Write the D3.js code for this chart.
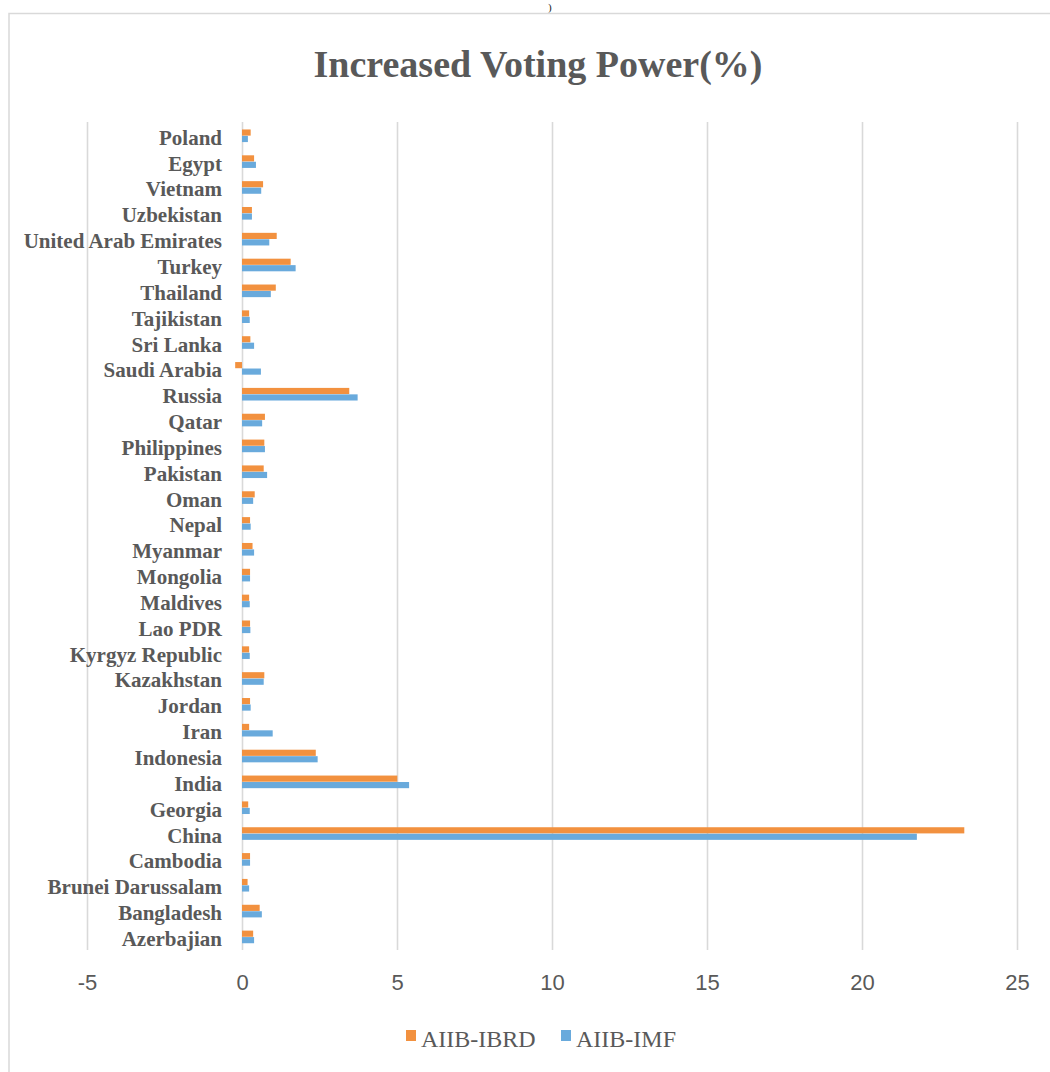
<!DOCTYPE html>
<html>
<head>
<meta charset="utf-8">
<script src="https://cdn.jsdelivr.net/npm/d3@7"></script>
<style>
  html, body { margin: 0; padding: 0; background: #ffffff; }
  svg { display: block; }
</style>
</head>
<body>
<script>
// ---- Data (bottom-to-top order as in the source sheet) ----
const categories = [
  "Azerbajian", "Bangladesh", "Brunei Darussalam", "Cambodia", "China", "Georgia",
  "India", "Indonesia", "Iran", "Jordan", "Kazakhstan", "Kyrgyz Republic", "Lao PDR",
  "Maldives", "Mongolia", "Myanmar", "Nepal", "Oman", "Pakistan", "Philippines",
  "Qatar", "Russia", "Saudi Arabia", "Sri Lanka", "Tajikistan", "Thailand", "Turkey",
  "United Arab Emirates", "Uzbekistan", "Vietnam", "Egypt", "Poland"
];
const aiibIbrd = [
  0.36, 0.57, 0.18, 0.26, 23.3, 0.20,
  5.01, 2.38, 0.23, 0.26, 0.72, 0.23, 0.26,
  0.23, 0.26, 0.34, 0.26, 0.41, 0.70, 0.72,
  0.74, 3.46, -0.22, 0.27, 0.23, 1.09, 1.57,
  1.12, 0.32, 0.68, 0.39, 0.28
];
const aiibImf = [
  0.39, 0.64, 0.23, 0.26, 21.77, 0.25,
  5.39, 2.44, 0.99, 0.28, 0.70, 0.25, 0.27,
  0.25, 0.26, 0.39, 0.28, 0.36, 0.81, 0.74,
  0.65, 3.73, 0.61, 0.39, 0.25, 0.93, 1.73,
  0.88, 0.32, 0.62, 0.45, 0.19
];
const seriesNames = ["AIIB-IBRD", "AIIB-IMF"];
const seriesColors = ["#F2913F", "#69AADC"];
const xTicks = [-5, 0, 5, 10, 15, 20, 25];
const title = "Increased Voting Power(%)";

// ---- Layout ----
const W = 1050, H = 1072;
const plot = { left: 242 - 5 * 31, right: 242 + 25 * 31, top: 123, bottom: 950 };

const svg = d3.select("body").append("svg")
  .attr("width", W).attr("height", H);

svg.append("rect").attr("width", W).attr("height", H).attr("fill", "#ffffff");

// stray fragment of document text above the chart
svg.append("text")
  .attr("x", 548).attr("y", 11)
  .attr("font-family", "'Liberation Serif', 'Times New Roman', serif")
  .attr("font-size", 11).attr("fill", "#222")
  .text(")");

// chart border
svg.append("rect")
  .attr("x", 9).attr("y", 13.5)
  .attr("width", W).attr("height", H)
  .attr("fill", "none").attr("stroke", "#D9D9D9").attr("stroke-width", 1.5);

// title
svg.append("text")
  .attr("x", 538).attr("y", 77)
  .attr("text-anchor", "middle")
  .attr("font-family", "'Liberation Serif', 'Times New Roman', serif")
  .attr("font-weight", "bold")
  .attr("font-size", 38)
  .attr("fill", "#595959")
  .text(title);

// ---- Scales ----
const x = d3.scaleLinear().domain([-5, 25]).range([plot.left, plot.right]);
const y = d3.scaleBand()
  .domain(categories.slice().reverse())
  .range([plot.top, plot.bottom])
  .paddingInner(0.5).paddingOuter(0.25);
const ySub = d3.scaleBand().domain(seriesNames).range([0, y.bandwidth()]);

// gridlines
const grid = svg.append("g")
  .attr("transform", `translate(0,${plot.bottom})`)
  .call(d3.axisBottom(x).tickValues(xTicks).tickSize(-(plot.bottom - plot.top + 1)).tickFormat(""));
grid.select(".domain").remove();
grid.selectAll(".tick line").attr("stroke", "#D9D9D9").attr("stroke-width", 1.6);

// x tick labels
const xa = svg.append("g")
  .attr("transform", `translate(0,${plot.bottom})`)
  .call(d3.axisBottom(x).tickValues(xTicks).tickSize(0).tickPadding(24).tickFormat(d3.format("d")));
xa.select(".domain").remove();
xa.selectAll("text")
  .attr("font-family", "'Liberation Sans', Arial, sans-serif")
  .attr("font-size", 22)
  .attr("fill", "#595959")
  .text(d => d < 0 ? "-" + Math.abs(d) : d);

// y category labels
const ya = svg.append("g")
  .attr("transform", `translate(${x(0) - 20},0)`)
  .call(d3.axisLeft(y).tickSize(0).tickPadding(0));
ya.select(".domain").remove();
ya.selectAll("text")
  .attr("font-family", "'Liberation Serif', 'Times New Roman', serif")
  .attr("font-weight", "bold")
  .attr("font-size", 21)
  .attr("fill", "#595959")
  .attr("dy", "0.42em");

// bars
const rows = categories.map((c, i) => ({ c, vals: [aiibIbrd[i], aiibImf[i]] }));
const groups = svg.append("g").selectAll("g").data(rows).join("g")
  .attr("transform", d => `translate(0,${y(d.c)})`);
groups.selectAll("rect")
  .data(d => d.vals.map((v, k) => ({ v, k })))
  .join("rect")
  .attr("x", d => x(Math.min(0, d.v)))
  .attr("width", d => Math.abs(x(d.v) - x(0)))
  .attr("y", d => ySub(seriesNames[d.k]))
  .attr("height", ySub.bandwidth() - 0.3)
  .attr("fill", d => seriesColors[d.k]);

// legend
const legendX = [406, 561];
const leg = svg.append("g");
seriesNames.forEach((name, k) => {
  leg.append("rect")
    .attr("x", legendX[k]).attr("y", 1030)
    .attr("width", 10).attr("height", 11)
    .attr("fill", seriesColors[k]);
  leg.append("text")
    .attr("x", legendX[k] + 15).attr("y", 1047)
    .attr("font-family", "'Liberation Serif', 'Times New Roman', serif")
    .attr("font-size", 24)
    .attr("fill", "#595959")
    .text(name);
});
</script>
</body>
</html>
